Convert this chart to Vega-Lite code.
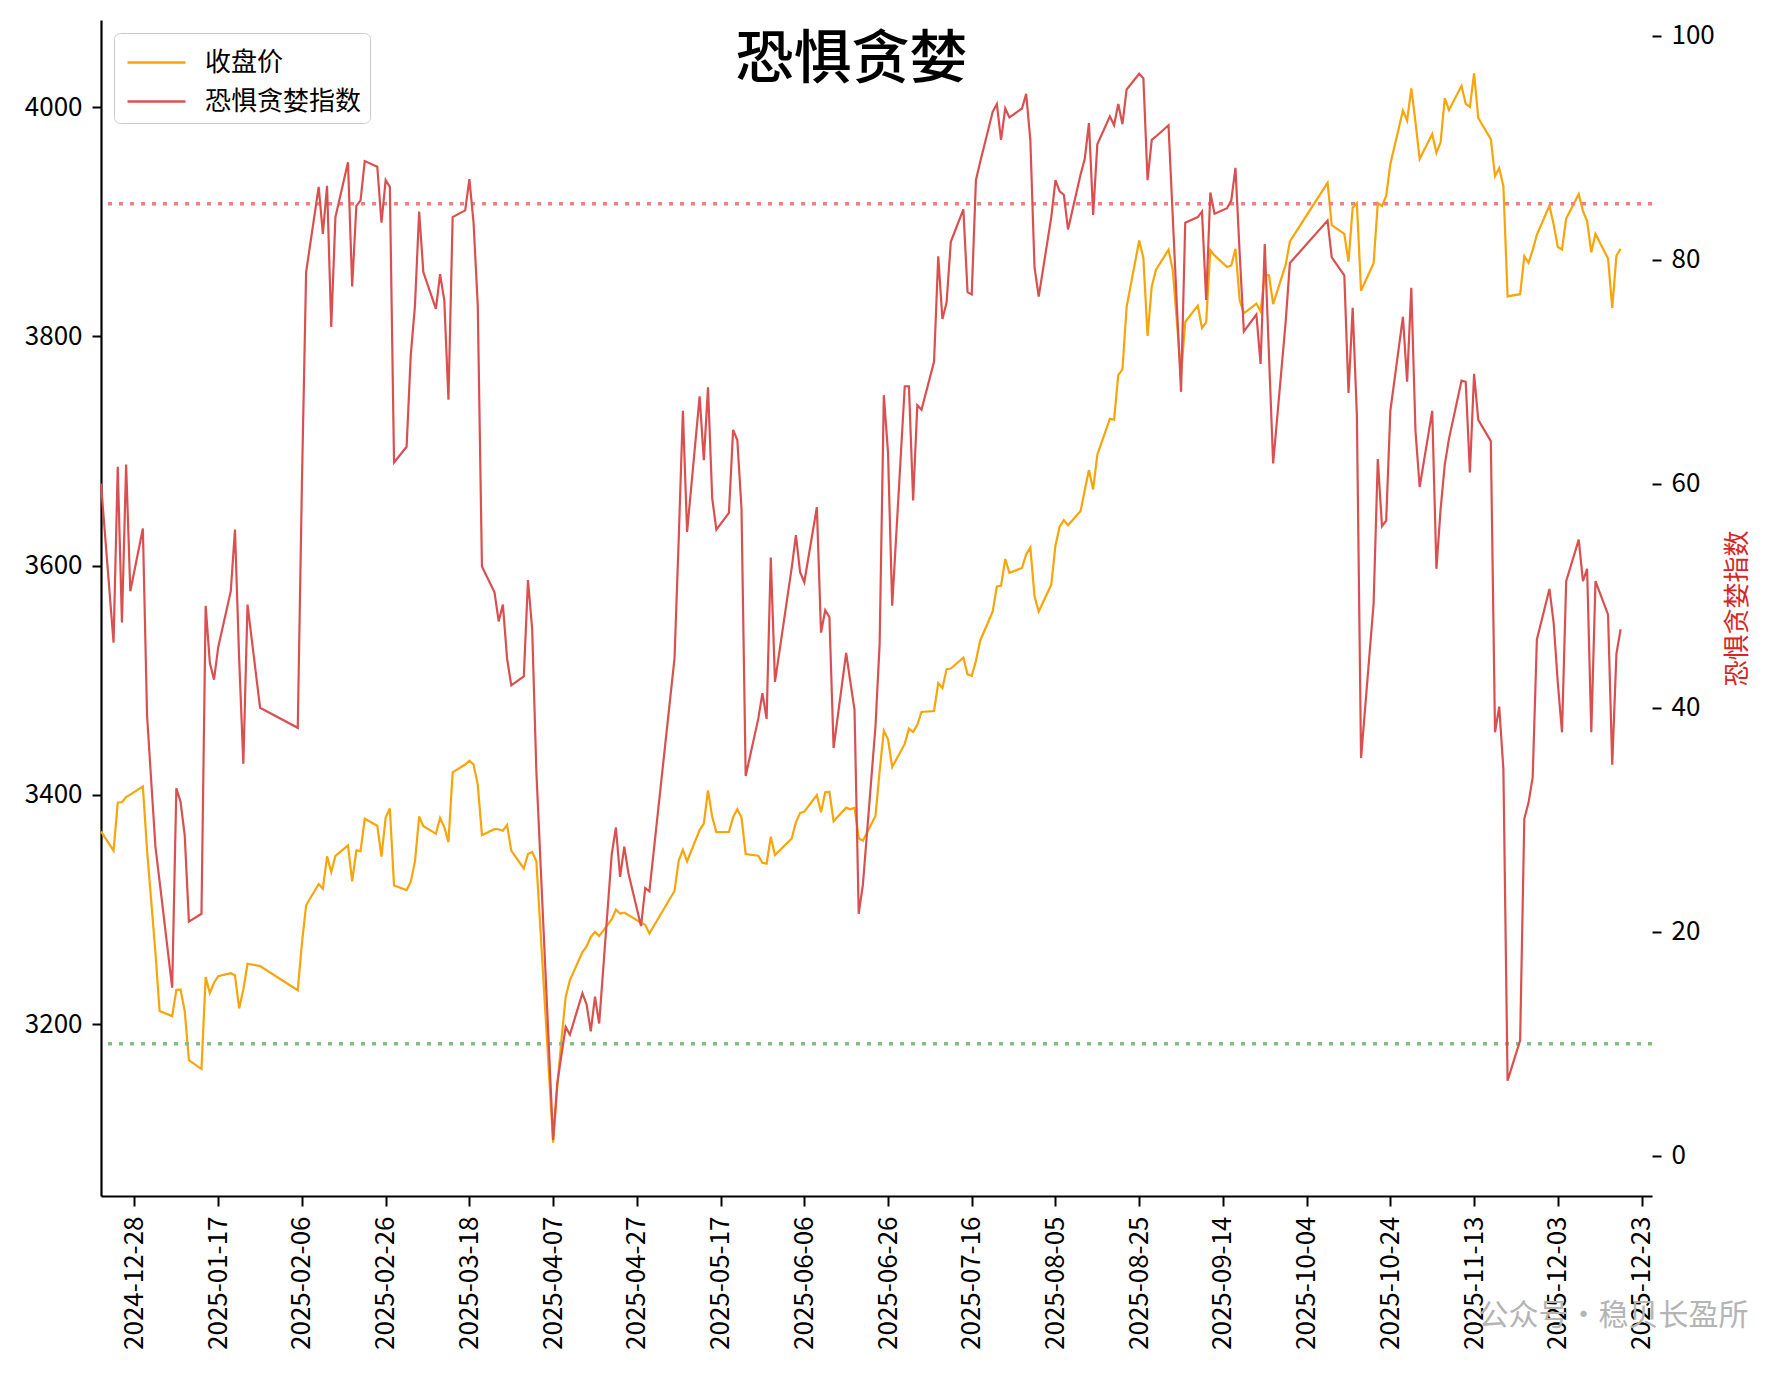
{
  "$schema": "https://vega.github.io/schema/vega-lite/v6.json",
  "width": 1551,
  "height": 1176,
  "autosize": {"type": "none"},
  "padding": {"left": 101, "top": 20, "right": 123, "bottom": 180},
  "background": "white",
  "title": {
    "text": "恐惧贪婪",
    "fontSize": 58,
    "fontWeight": 500,
    "color": "black",
    "anchor": "middle",
    "baseline": "top",
    "offset": 0,
    "dx": -25,
    "dy": 70
  },
  "data": {
    "values": [
      {"date": "2024-12-20", "close": 3368.07, "fg": 60.0},
      {"date": "2024-12-23", "close": 3351.26, "fg": 45.8},
      {"date": "2024-12-24", "close": 3393.35, "fg": 61.5},
      {"date": "2024-12-25", "close": 3393.53, "fg": 47.6},
      {"date": "2024-12-26", "close": 3398.08, "fg": 61.7},
      {"date": "2024-12-27", "close": 3400.14, "fg": 50.4},
      {"date": "2024-12-30", "close": 3407.33, "fg": 56.0},
      {"date": "2024-12-31", "close": 3351.76, "fg": 39.3},
      {"date": "2025-01-02", "close": 3262.56, "fg": 27.6},
      {"date": "2025-01-03", "close": 3211.43, "fg": 24.5},
      {"date": "2025-01-06", "close": 3206.92, "fg": 15.0},
      {"date": "2025-01-07", "close": 3229.64, "fg": 32.8},
      {"date": "2025-01-08", "close": 3230.17, "fg": 31.6},
      {"date": "2025-01-09", "close": 3211.39, "fg": 28.6},
      {"date": "2025-01-10", "close": 3168.52, "fg": 20.9},
      {"date": "2025-01-13", "close": 3160.76, "fg": 21.6},
      {"date": "2025-01-14", "close": 3240.94, "fg": 49.1},
      {"date": "2025-01-15", "close": 3227.12, "fg": 44.0},
      {"date": "2025-01-16", "close": 3236.03, "fg": 42.5},
      {"date": "2025-01-17", "close": 3241.82, "fg": 45.4},
      {"date": "2025-01-20", "close": 3244.38, "fg": 50.4},
      {"date": "2025-01-21", "close": 3242.62, "fg": 55.9},
      {"date": "2025-01-22", "close": 3213.62, "fg": 44.4},
      {"date": "2025-01-23", "close": 3230.16, "fg": 35.0},
      {"date": "2025-01-24", "close": 3252.63, "fg": 49.2},
      {"date": "2025-01-27", "close": 3250.60, "fg": 40.0},
      {"date": "2025-02-05", "close": 3229.49, "fg": 38.2},
      {"date": "2025-02-06", "close": 3270.66, "fg": 60.1},
      {"date": "2025-02-07", "close": 3303.67, "fg": 78.9},
      {"date": "2025-02-10", "close": 3322.17, "fg": 86.5},
      {"date": "2025-02-11", "close": 3318.06, "fg": 82.3},
      {"date": "2025-02-12", "close": 3346.39, "fg": 86.6},
      {"date": "2025-02-13", "close": 3332.48, "fg": 74.0},
      {"date": "2025-02-14", "close": 3346.72, "fg": 83.8},
      {"date": "2025-02-17", "close": 3355.83, "fg": 88.7},
      {"date": "2025-02-18", "close": 3324.49, "fg": 77.6},
      {"date": "2025-02-19", "close": 3351.54, "fg": 84.8},
      {"date": "2025-02-20", "close": 3350.78, "fg": 85.3},
      {"date": "2025-02-21", "close": 3379.11, "fg": 88.8},
      {"date": "2025-02-24", "close": 3373.03, "fg": 88.3},
      {"date": "2025-02-25", "close": 3346.04, "fg": 83.3},
      {"date": "2025-02-26", "close": 3380.21, "fg": 87.1},
      {"date": "2025-02-27", "close": 3388.06, "fg": 86.5},
      {"date": "2025-02-28", "close": 3320.90, "fg": 61.9},
      {"date": "2025-03-03", "close": 3316.93, "fg": 63.3},
      {"date": "2025-03-04", "close": 3324.21, "fg": 71.5},
      {"date": "2025-03-05", "close": 3341.96, "fg": 75.9},
      {"date": "2025-03-06", "close": 3381.10, "fg": 84.3},
      {"date": "2025-03-07", "close": 3372.55, "fg": 78.9},
      {"date": "2025-03-10", "close": 3366.16, "fg": 75.6},
      {"date": "2025-03-11", "close": 3379.83, "fg": 78.7},
      {"date": "2025-03-12", "close": 3371.92, "fg": 76.4},
      {"date": "2025-03-13", "close": 3358.73, "fg": 67.5},
      {"date": "2025-03-14", "close": 3419.56, "fg": 83.8},
      {"date": "2025-03-17", "close": 3426.43, "fg": 84.4},
      {"date": "2025-03-18", "close": 3429.76, "fg": 87.2},
      {"date": "2025-03-19", "close": 3426.43, "fg": 83.3},
      {"date": "2025-03-20", "close": 3408.95, "fg": 75.9},
      {"date": "2025-03-21", "close": 3364.83, "fg": 52.6},
      {"date": "2025-03-24", "close": 3370.03, "fg": 50.3},
      {"date": "2025-03-25", "close": 3369.98, "fg": 47.7},
      {"date": "2025-03-26", "close": 3368.70, "fg": 49.2},
      {"date": "2025-03-27", "close": 3373.75, "fg": 44.4},
      {"date": "2025-03-28", "close": 3351.31, "fg": 42.0},
      {"date": "2025-03-31", "close": 3335.75, "fg": 42.8},
      {"date": "2025-04-01", "close": 3348.44, "fg": 51.4},
      {"date": "2025-04-02", "close": 3350.13, "fg": 47.0},
      {"date": "2025-04-03", "close": 3342.01, "fg": 34.3},
      {"date": "2025-04-07", "close": 3096.58, "fg": 1.4},
      {"date": "2025-04-08", "close": 3145.55, "fg": 6.5},
      {"date": "2025-04-09", "close": 3186.81, "fg": 9.0},
      {"date": "2025-04-10", "close": 3223.64, "fg": 11.5},
      {"date": "2025-04-11", "close": 3238.23, "fg": 10.8},
      {"date": "2025-04-14", "close": 3262.81, "fg": 14.5},
      {"date": "2025-04-15", "close": 3267.66, "fg": 13.5},
      {"date": "2025-04-16", "close": 3276.00, "fg": 11.1},
      {"date": "2025-04-17", "close": 3280.34, "fg": 14.2},
      {"date": "2025-04-18", "close": 3276.73, "fg": 11.8},
      {"date": "2025-04-21", "close": 3291.43, "fg": 26.9},
      {"date": "2025-04-22", "close": 3299.76, "fg": 29.3},
      {"date": "2025-04-23", "close": 3296.36, "fg": 24.9},
      {"date": "2025-04-24", "close": 3297.29, "fg": 27.6},
      {"date": "2025-04-25", "close": 3295.06, "fg": 25.2},
      {"date": "2025-04-28", "close": 3288.41, "fg": 20.5},
      {"date": "2025-04-29", "close": 3286.65, "fg": 23.9},
      {"date": "2025-04-30", "close": 3279.03, "fg": 23.6},
      {"date": "2025-05-06", "close": 3316.11, "fg": 44.4},
      {"date": "2025-05-07", "close": 3342.67, "fg": 55.0},
      {"date": "2025-05-08", "close": 3352.00, "fg": 66.5},
      {"date": "2025-05-09", "close": 3342.00, "fg": 55.7},
      {"date": "2025-05-12", "close": 3369.24, "fg": 67.8},
      {"date": "2025-05-13", "close": 3374.87, "fg": 62.1},
      {"date": "2025-05-14", "close": 3403.95, "fg": 68.6},
      {"date": "2025-05-15", "close": 3380.82, "fg": 58.7},
      {"date": "2025-05-16", "close": 3367.46, "fg": 55.9},
      {"date": "2025-05-19", "close": 3367.58, "fg": 57.4},
      {"date": "2025-05-20", "close": 3380.48, "fg": 64.8},
      {"date": "2025-05-21", "close": 3387.57, "fg": 63.9},
      {"date": "2025-05-22", "close": 3380.19, "fg": 57.8},
      {"date": "2025-05-23", "close": 3348.37, "fg": 33.9},
      {"date": "2025-05-26", "close": 3346.84, "fg": 39.0},
      {"date": "2025-05-27", "close": 3340.69, "fg": 41.3},
      {"date": "2025-05-28", "close": 3339.93, "fg": 39.0},
      {"date": "2025-05-29", "close": 3363.45, "fg": 53.4},
      {"date": "2025-05-30", "close": 3347.49, "fg": 42.3},
      {"date": "2025-06-03", "close": 3361.98, "fg": 52.5},
      {"date": "2025-06-04", "close": 3376.20, "fg": 55.4},
      {"date": "2025-06-05", "close": 3384.10, "fg": 52.1},
      {"date": "2025-06-06", "close": 3385.36, "fg": 51.2},
      {"date": "2025-06-09", "close": 3399.77, "fg": 57.9},
      {"date": "2025-06-10", "close": 3384.82, "fg": 46.7},
      {"date": "2025-06-11", "close": 3402.32, "fg": 48.7},
      {"date": "2025-06-12", "close": 3402.66, "fg": 48.1},
      {"date": "2025-06-13", "close": 3377.00, "fg": 36.4},
      {"date": "2025-06-16", "close": 3388.81, "fg": 44.9},
      {"date": "2025-06-17", "close": 3387.40, "fg": 42.3},
      {"date": "2025-06-18", "close": 3388.81, "fg": 39.8},
      {"date": "2025-06-19", "close": 3362.11, "fg": 21.6},
      {"date": "2025-06-20", "close": 3359.90, "fg": 24.2},
      {"date": "2025-06-23", "close": 3381.58, "fg": 38.3},
      {"date": "2025-06-24", "close": 3420.57, "fg": 45.7},
      {"date": "2025-06-25", "close": 3455.97, "fg": 67.9},
      {"date": "2025-06-26", "close": 3448.45, "fg": 62.8},
      {"date": "2025-06-27", "close": 3424.23, "fg": 49.1},
      {"date": "2025-06-30", "close": 3444.43, "fg": 68.7},
      {"date": "2025-07-01", "close": 3457.75, "fg": 68.7},
      {"date": "2025-07-02", "close": 3454.79, "fg": 58.5},
      {"date": "2025-07-03", "close": 3461.15, "fg": 67.0},
      {"date": "2025-07-04", "close": 3472.32, "fg": 66.6},
      {"date": "2025-07-07", "close": 3473.13, "fg": 70.9},
      {"date": "2025-07-08", "close": 3497.48, "fg": 80.3},
      {"date": "2025-07-09", "close": 3493.05, "fg": 74.7},
      {"date": "2025-07-10", "close": 3509.68, "fg": 76.2},
      {"date": "2025-07-11", "close": 3510.18, "fg": 81.6},
      {"date": "2025-07-14", "close": 3519.65, "fg": 84.5},
      {"date": "2025-07-15", "close": 3505.00, "fg": 77.1},
      {"date": "2025-07-16", "close": 3503.78, "fg": 76.9},
      {"date": "2025-07-17", "close": 3516.83, "fg": 87.1},
      {"date": "2025-07-18", "close": 3534.48, "fg": 88.7},
      {"date": "2025-07-21", "close": 3559.79, "fg": 93.2},
      {"date": "2025-07-22", "close": 3581.86, "fg": 93.9},
      {"date": "2025-07-23", "close": 3582.30, "fg": 90.7},
      {"date": "2025-07-24", "close": 3605.73, "fg": 93.5},
      {"date": "2025-07-25", "close": 3593.66, "fg": 92.7},
      {"date": "2025-07-28", "close": 3597.94, "fg": 93.5},
      {"date": "2025-07-29", "close": 3609.71, "fg": 94.8},
      {"date": "2025-07-30", "close": 3615.72, "fg": 90.7},
      {"date": "2025-07-31", "close": 3573.21, "fg": 79.3},
      {"date": "2025-08-01", "close": 3559.95, "fg": 76.7},
      {"date": "2025-08-04", "close": 3583.31, "fg": 83.8},
      {"date": "2025-08-05", "close": 3617.60, "fg": 87.1},
      {"date": "2025-08-06", "close": 3633.99, "fg": 86.1},
      {"date": "2025-08-07", "close": 3639.67, "fg": 85.8},
      {"date": "2025-08-08", "close": 3635.13, "fg": 82.7},
      {"date": "2025-08-11", "close": 3647.55, "fg": 87.6},
      {"date": "2025-08-12", "close": 3665.92, "fg": 89.0},
      {"date": "2025-08-13", "close": 3683.46, "fg": 92.2},
      {"date": "2025-08-14", "close": 3666.44, "fg": 84.0},
      {"date": "2025-08-15", "close": 3696.77, "fg": 90.3},
      {"date": "2025-08-18", "close": 3728.03, "fg": 92.8},
      {"date": "2025-08-19", "close": 3727.29, "fg": 92.0},
      {"date": "2025-08-20", "close": 3766.21, "fg": 93.9},
      {"date": "2025-08-21", "close": 3771.10, "fg": 92.1},
      {"date": "2025-08-22", "close": 3825.76, "fg": 95.2},
      {"date": "2025-08-25", "close": 3883.56, "fg": 96.6},
      {"date": "2025-08-26", "close": 3868.38, "fg": 96.2},
      {"date": "2025-08-27", "close": 3800.35, "fg": 87.1},
      {"date": "2025-08-28", "close": 3843.60, "fg": 90.7},
      {"date": "2025-08-29", "close": 3857.93, "fg": 91.0},
      {"date": "2025-09-01", "close": 3875.53, "fg": 92.0},
      {"date": "2025-09-02", "close": 3858.13, "fg": 84.0},
      {"date": "2025-09-03", "close": 3813.56, "fg": 75.9},
      {"date": "2025-09-04", "close": 3765.88, "fg": 68.2},
      {"date": "2025-09-05", "close": 3812.51, "fg": 83.3},
      {"date": "2025-09-08", "close": 3826.84, "fg": 83.8},
      {"date": "2025-09-09", "close": 3807.29, "fg": 84.3},
      {"date": "2025-09-10", "close": 3812.22, "fg": 76.4},
      {"date": "2025-09-11", "close": 3875.31, "fg": 86.0},
      {"date": "2025-09-12", "close": 3870.60, "fg": 84.1},
      {"date": "2025-09-15", "close": 3860.50, "fg": 84.6},
      {"date": "2025-09-16", "close": 3861.87, "fg": 85.3},
      {"date": "2025-09-17", "close": 3876.34, "fg": 88.2},
      {"date": "2025-09-18", "close": 3831.66, "fg": 80.6},
      {"date": "2025-09-19", "close": 3820.09, "fg": 73.6},
      {"date": "2025-09-22", "close": 3828.58, "fg": 75.1},
      {"date": "2025-09-23", "close": 3821.83, "fg": 70.7},
      {"date": "2025-09-24", "close": 3853.64, "fg": 81.4},
      {"date": "2025-09-25", "close": 3853.30, "fg": 71.5},
      {"date": "2025-09-26", "close": 3828.11, "fg": 61.8},
      {"date": "2025-09-29", "close": 3862.53, "fg": 74.5},
      {"date": "2025-09-30", "close": 3882.78, "fg": 79.7},
      {"date": "2025-10-09", "close": 3933.97, "fg": 83.5},
      {"date": "2025-10-10", "close": 3897.03, "fg": 80.2},
      {"date": "2025-10-13", "close": 3889.50, "fg": 78.6},
      {"date": "2025-10-14", "close": 3865.23, "fg": 68.1},
      {"date": "2025-10-15", "close": 3912.21, "fg": 75.7},
      {"date": "2025-10-16", "close": 3916.23, "fg": 66.1},
      {"date": "2025-10-17", "close": 3839.76, "fg": 35.5},
      {"date": "2025-10-20", "close": 3863.89, "fg": 49.3},
      {"date": "2025-10-21", "close": 3916.33, "fg": 62.2},
      {"date": "2025-10-22", "close": 3913.76, "fg": 56.2},
      {"date": "2025-10-23", "close": 3922.41, "fg": 56.7},
      {"date": "2025-10-24", "close": 3950.31, "fg": 66.5},
      {"date": "2025-10-27", "close": 3996.94, "fg": 74.9},
      {"date": "2025-10-28", "close": 3988.22, "fg": 69.1},
      {"date": "2025-10-29", "close": 4016.33, "fg": 77.5},
      {"date": "2025-10-30", "close": 3986.90, "fg": 64.7},
      {"date": "2025-10-31", "close": 3954.79, "fg": 59.7},
      {"date": "2025-11-03", "close": 3976.52, "fg": 66.5},
      {"date": "2025-11-04", "close": 3960.19, "fg": 52.4},
      {"date": "2025-11-05", "close": 3969.25, "fg": 57.7},
      {"date": "2025-11-06", "close": 4007.76, "fg": 61.7},
      {"date": "2025-11-07", "close": 3997.56, "fg": 64.0},
      {"date": "2025-11-10", "close": 4018.60, "fg": 69.2},
      {"date": "2025-11-11", "close": 4002.76, "fg": 69.1},
      {"date": "2025-11-12", "close": 4000.14, "fg": 61.0},
      {"date": "2025-11-13", "close": 4029.50, "fg": 69.8},
      {"date": "2025-11-14", "close": 3990.49, "fg": 65.7},
      {"date": "2025-11-17", "close": 3972.03, "fg": 63.8},
      {"date": "2025-11-18", "close": 3939.81, "fg": 37.8},
      {"date": "2025-11-19", "close": 3946.74, "fg": 40.1},
      {"date": "2025-11-20", "close": 3931.05, "fg": 34.5},
      {"date": "2025-11-21", "close": 3834.89, "fg": 6.7},
      {"date": "2025-11-24", "close": 3836.77, "fg": 10.3},
      {"date": "2025-11-25", "close": 3870.02, "fg": 30.1},
      {"date": "2025-11-26", "close": 3864.18, "fg": 31.5},
      {"date": "2025-11-27", "close": 3875.26, "fg": 33.8},
      {"date": "2025-11-28", "close": 3888.60, "fg": 46.1},
      {"date": "2025-12-01", "close": 3914.01, "fg": 50.6},
      {"date": "2025-12-02", "close": 3897.71, "fg": 47.6},
      {"date": "2025-12-03", "close": 3878.00, "fg": 42.2},
      {"date": "2025-12-04", "close": 3875.79, "fg": 37.8},
      {"date": "2025-12-05", "close": 3902.81, "fg": 51.3},
      {"date": "2025-12-08", "close": 3924.08, "fg": 55.0},
      {"date": "2025-12-09", "close": 3909.52, "fg": 51.3},
      {"date": "2025-12-10", "close": 3900.50, "fg": 52.4},
      {"date": "2025-12-11", "close": 3873.32, "fg": 37.8},
      {"date": "2025-12-12", "close": 3889.35, "fg": 51.3},
      {"date": "2025-12-15", "close": 3867.92, "fg": 48.3},
      {"date": "2025-12-16", "close": 3824.81, "fg": 34.9},
      {"date": "2025-12-17", "close": 3870.28, "fg": 44.8},
      {"date": "2025-12-18", "close": 3876.37, "fg": 47.0}
    ]
  },
  "layer": [
    {
      "mark": {"type": "line", "strokeWidth": 2.2},
      "encoding": {
        "x": {
          "field": "date",
          "type": "temporal",
          "scale": {
            "type": "utc",
            "domain": [
              {"year": 2024, "month": 12, "date": 20, "utc": true},
              {"year": 2025, "month": 12, "date": 25, "hours": 12, "utc": true}
            ]
          },
          "axis": {
            "values": [
              {"year": 2024, "month": 12, "date": 28, "utc": true},
              {"year": 2025, "month": 1, "date": 17, "utc": true},
              {"year": 2025, "month": 2, "date": 6, "utc": true},
              {"year": 2025, "month": 2, "date": 26, "utc": true},
              {"year": 2025, "month": 3, "date": 18, "utc": true},
              {"year": 2025, "month": 4, "date": 7, "utc": true},
              {"year": 2025, "month": 4, "date": 27, "utc": true},
              {"year": 2025, "month": 5, "date": 17, "utc": true},
              {"year": 2025, "month": 6, "date": 6, "utc": true},
              {"year": 2025, "month": 6, "date": 26, "utc": true},
              {"year": 2025, "month": 7, "date": 16, "utc": true},
              {"year": 2025, "month": 8, "date": 5, "utc": true},
              {"year": 2025, "month": 8, "date": 25, "utc": true},
              {"year": 2025, "month": 9, "date": 14, "utc": true},
              {"year": 2025, "month": 10, "date": 4, "utc": true},
              {"year": 2025, "month": 10, "date": 24, "utc": true},
              {"year": 2025, "month": 11, "date": 13, "utc": true},
              {"year": 2025, "month": 12, "date": 3, "utc": true},
              {"year": 2025, "month": 12, "date": 23, "utc": true}
            ],
            "format": "%Y-%m-%d",
            "labelAngle": 270,
            "labelFontSize": 26,
            "labelPadding": 10,
            "labelOverlap": false,
            "labelFlush": false,
            "tickSize": 10,
            "tickWidth": 2,
            "domainWidth": 2.2,
            "domainColor": "black",
            "grid": false,
            "title": "公众号•稳贝长盈所",
            "titleColor": "#b4b4b4",
            "titleFontSize": 30,
            "titleFontWeight": "normal",
            "titleAlign": "right",
            "titleBaseline": "middle",
            "titleX": 1647,
            "titleY": 119
          }
        },
        "y": {
          "field": "close",
          "type": "quantitative",
          "scale": {"domain": [3050, 4076], "nice": false, "zero": false},
          "axis": {
            "values": [3200, 3400, 3600, 3800, 4000],
            "format": "d",
            "title": null,
            "grid": false,
            "labelFontSize": 26,
            "labelPadding": 10,
            "tickSize": 9,
            "tickWidth": 2,
            "domainWidth": 2.2
          }
        },
        "color": {
          "datum": "收盘价",
          "scale": {"domain": ["收盘价", "恐惧贪婪指数"], "range": ["#f7a50a", "#da5050"]},
          "legend": {
            "title": null,
            "orient": "top-left",
            "offset": 13,
            "padding": 8,
            "fillColor": "rgba(255,255,255,0.8)",
            "strokeColor": "#cccccc",
            "cornerRadius": 6,
            "symbolType": "M-1.45,0H1.45",
            "symbolSize": 1600,
            "symbolStrokeWidth": 2.5,
            "symbolOffset": 13,
            "labelOffset": 27,
            "labelFontSize": 26,
            "rowPadding": 4
          }
        }
      }
    },
    {
      "layer": [
        {
          "data": {"values": [{}]},
          "mark": {"type": "rule", "color": "#f08080", "strokeDash": [4, 7], "strokeWidth": 3.5},
          "encoding": {"y": {"datum": 85, "type": "quantitative", "scale": {"domain": [-3.6, 101.4], "nice": false, "zero": false}}}
        },
        {
          "data": {"values": [{}]},
          "mark": {"type": "rule", "color": "#80bf80", "strokeDash": [4, 7], "strokeWidth": 3.5},
          "encoding": {"y": {"datum": 10, "type": "quantitative", "scale": {"domain": [-3.6, 101.4], "nice": false, "zero": false}}}
        },
        {
          "mark": {"type": "line", "strokeWidth": 2.2},
          "encoding": {
            "x": {"field": "date", "type": "temporal"},
            "y": {
              "field": "fg",
              "type": "quantitative",
              "scale": {"domain": [-3.6, 101.4], "nice": false, "zero": false},
              "axis": {
                "orient": "right",
                "values": [0, 20, 40, 60, 80, 100],
                "domain": false,
                "grid": false,
                "labelFontSize": 26,
                "labelPadding": 10,
                "tickSize": 9,
                "tickWidth": 2,
                "title": "恐惧贪婪指数",
                "titleColor": "#d62728",
                "titleFontSize": 26,
                "titleFontWeight": "normal",
                "titleAngle": 270,
                "titlePadding": 36
              }
            },
            "color": {"datum": "恐惧贪婪指数"}
          }
        }
      ]
    }
  ],
  "resolve": {"scale": {"y": "independent"}},
  "config": {
    "font": "Noto Sans CJK SC",
    "view": {"stroke": null},
    "axis": {
      "labelColor": "black",
      "tickColor": "black",
      "domainColor": "black",
      "labelFont": "Noto Sans CJK SC",
      "titleFont": "Noto Sans CJK SC"
    },
    "legend": {"labelFont": "Noto Sans CJK SC", "labelColor": "black"},
    "title": {"font": "Noto Sans CJK SC"}
  }
}
